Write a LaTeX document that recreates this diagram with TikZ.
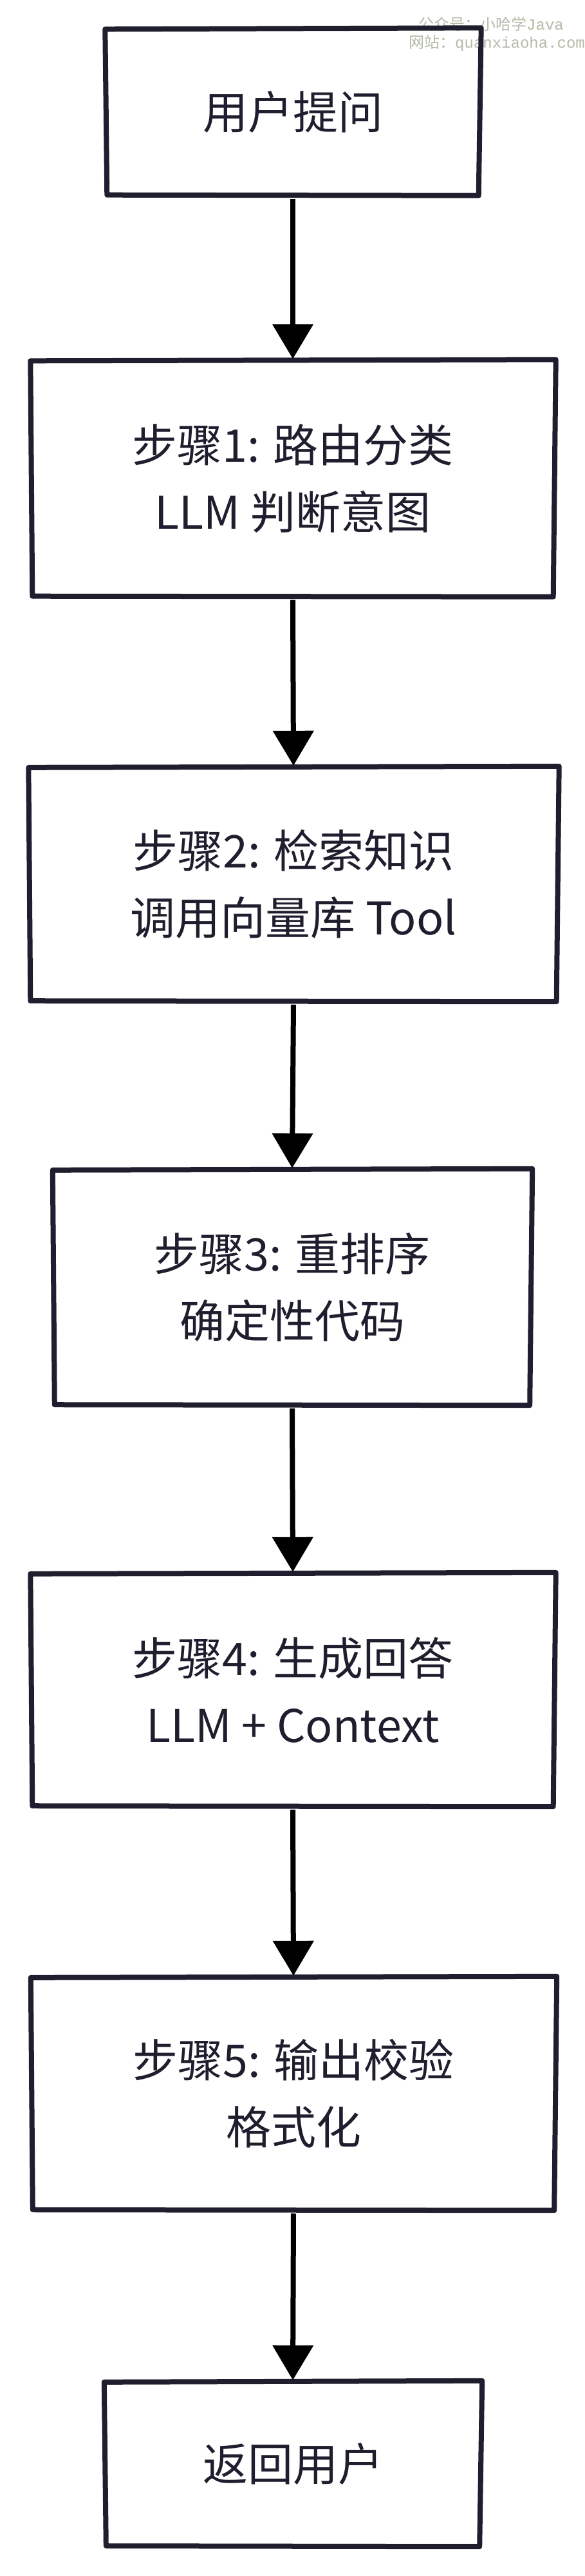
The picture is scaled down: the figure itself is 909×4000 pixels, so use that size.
\documentclass[tikz,border=0pt]{standalone}
\usepackage{fontspec}
\setmainfont{Noto Sans CJK SC}
\newfontfamily\wmmono{Liberation Mono}
\usetikzlibrary{arrows.meta}
\definecolor{ink}{HTML}{1E1E2E}
\definecolor{wmgray}{HTML}{B4BBA8}
\tikzset{
 stepbox/.style={draw=none, inner sep=0pt, align=center, text=ink, font=\fontsize{70}{104}\selectfont},
 boxline/.style={draw=ink, line width=8pt, line join=round, line cap=round},
 flow/.style={draw=black, line width=8pt, -{Triangle[width=62pt,length=54pt]}},
 wmtext/.style={text=wmgray, font=\fontsize{24}{30}\selectfont, anchor=west, inner sep=0pt}
}
\newcommand\roughbox[1]{%
 \draw[boxline] ([shift={(-2,-1)}]#1.north west) -- ([shift={(3,-3)}]#1.north east)
   -- ([shift={(-1,2)}]#1.south east) -- ([shift={(1,1)}]#1.south west) -- cycle;}
\begin{document}
\begin{tikzpicture}[x=1pt,y=-1pt]
\useasboundingbox[fill=white] (0,0) rectangle (909,4000);
\node[wmtext] (wm1) at (650,37) {公众号：小哈学{\wmmono Java}};
\node[wmtext] (wm2) at (635,67) {网站：{\wmmono quanxiaoha.com}};
\node[stepbox, minimum width=579pt, minimum height=255pt] (b1) at (455,174) {用户提问};
\node[stepbox, minimum width=811pt, minimum height=363pt] (b2) at (455,743) {步骤1: 路由分类\\LLM 判断意图};
\node[stepbox, minimum width=819pt, minimum height=360pt] (b3) at (456,1373) {步骤2: 检索知识\\调用向量库 Tool};
\node[stepbox, minimum width=740pt, minimum height=362pt] (b4) at (454,1999) {步骤3: 重排序\\确定性代码};
\node[stepbox, minimum width=811pt, minimum height=358pt] (b5) at (455,2624) {步骤4: 生成回答\\LLM + Context};
\node[stepbox, minimum width=812pt, minimum height=358pt] (b6) at (456,3251) {步骤5: 输出校验\\格式化};
\node[stepbox, minimum width=582pt, minimum height=252pt] (b7) at (455,3826) {返回用户};
\foreach \b in {b1,b2,b3,b4,b5,b6,b7} {\roughbox{\b}}
\draw[flow] ([yshift=-7pt]b1.south) -- ([yshift=4pt]b2.north);
\draw[flow] ([yshift=-7pt]b2.south) -- ([yshift=4pt]b3.north);
\draw[flow] ([yshift=-7pt]b3.south) -- ([yshift=4pt]b4.north);
\draw[flow] ([yshift=-7pt]b4.south) -- ([yshift=4pt]b5.north);
\draw[flow] ([yshift=-7pt]b5.south) -- ([yshift=4pt]b6.north);
\draw[flow] ([yshift=-7pt]b6.south) -- ([yshift=4pt]b7.north);
\end{tikzpicture}
\end{document}
